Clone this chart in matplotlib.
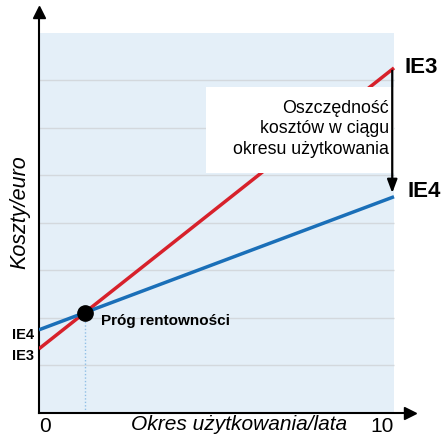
import numpy as np
import matplotlib
matplotlib.use('Agg')
import matplotlib.pyplot as plt
from matplotlib.patches import Rectangle

plt.rcParams['font.family'] = ['Liberation Sans', 'DejaVu Sans']

# dane
years = [0, 10]
ie3_cost = [1.35, 7.26]
ie4_cost = [1.75, 4.55]
x_ticks = [0, 10]
x_tick_labels = ['0', '10']

# punkt przecięcia
a3 = (ie3_cost[1] - ie3_cost[0]) / (years[1] - years[0])
a4 = (ie4_cost[1] - ie4_cost[0]) / (years[1] - years[0])
x_be = (ie4_cost[0] - ie3_cost[0]) / (a3 - a4)
y_be = ie3_cost[0] + a3 * x_be

fig = plt.figure(figsize=(4.43, 4.36), dpi=100)
ax = fig.add_axes([0.088, 0.0528, 0.8375, 0.92])
ax.set_xlim(0, 10.45)
ax.set_ylim(0, 8.44)

# tło
ax.add_patch(Rectangle((0, 0), 10, 8, facecolor='#e4eff8', edgecolor='none', zorder=0))
ax.hlines(np.arange(1, 8), 0, 10, color='#d3d8dd', lw=1, zorder=1)

# linie kosztów
ax.plot(years, ie3_cost, color='#d7212b', lw=2.5, zorder=3, solid_capstyle='butt')
ax.plot(years, ie4_cost, color='#1a6fb8', lw=2.5, zorder=3, solid_capstyle='butt')

# próg rentowności
ax.plot([x_be, x_be], [0, y_be], color='#8fbfe6', lw=1, ls=(0, (1, 1.5)), zorder=2)
ax.plot(x_be, y_be, 'o', color='black', ms=11, zorder=5)
ax.text(x_be + 0.45, y_be - 0.18, 'Próg rentowności', fontsize=11, fontweight='bold',
        ha='left', va='center', zorder=6)

# ramka z opisem
ax.add_patch(Rectangle((4.7, 5.05), 5.3, 1.8, facecolor='white', edgecolor='none', zorder=4))
ax.text(9.85, 5.98, 'Oszczędność\nkosztów w ciągu\nokresu użytkowania', fontsize=12.8,
        ha='right', va='center', linespacing=1.25, zorder=6)
ax.annotate('', xy=(9.95, ie4_cost[1] + 0.02), xytext=(9.95, ie3_cost[1]),
            arrowprops=dict(arrowstyle='-|>,head_length=0.8,head_width=0.3', color='black', lw=1.6),
            zorder=7)

# etykiety IE3 / IE4
ax.text(10.3, ie3_cost[1], 'IE3', fontsize=16, fontweight='bold', ha='left', va='center',
        clip_on=False)
ax.text(10.38, ie4_cost[1] + 0.1, 'IE4', fontsize=16, fontweight='bold', ha='left', va='center',
        clip_on=False)
ax.text(-0.15, ie4_cost[0] - 0.1, 'IE4', fontsize=10.5, fontweight='bold', ha='right', va='center')
ax.text(-0.15, ie3_cost[0] - 0.15, 'IE3', fontsize=10.5, fontweight='bold', ha='right', va='center')

# osie
for s in ['top', 'right']:
    ax.spines[s].set_visible(False)
ax.spines['left'].set_linewidth(1.5)
ax.spines['bottom'].set_linewidth(1.5)
ax.plot(1, 0, '>k', ms=9, transform=ax.transAxes, clip_on=False)
ax.plot(0, 1, '^k', ms=9, transform=ax.transAxes, clip_on=False)

ax.set_yticks([])
ax.set_xticks(x_ticks)
ax.set_xticklabels(x_tick_labels, fontsize=15)
ax.tick_params(axis='x', length=0, pad=3)
ticklabels = ax.get_xticklabels()
ticklabels[0].set_ha('left')
ticklabels[-1].set_ha('right')
ax.set_xlabel('Okres użytkowania/lata', fontsize=15, fontstyle='italic')
ax.xaxis.set_label_coords(0.54, -0.006, transform=ax.transAxes)
ax.xaxis.label.set_va('top')
ax.set_ylabel('Koszty/euro', fontsize=15.5, fontstyle='italic', labelpad=6)

fig.savefig('out.png', dpi=100)
